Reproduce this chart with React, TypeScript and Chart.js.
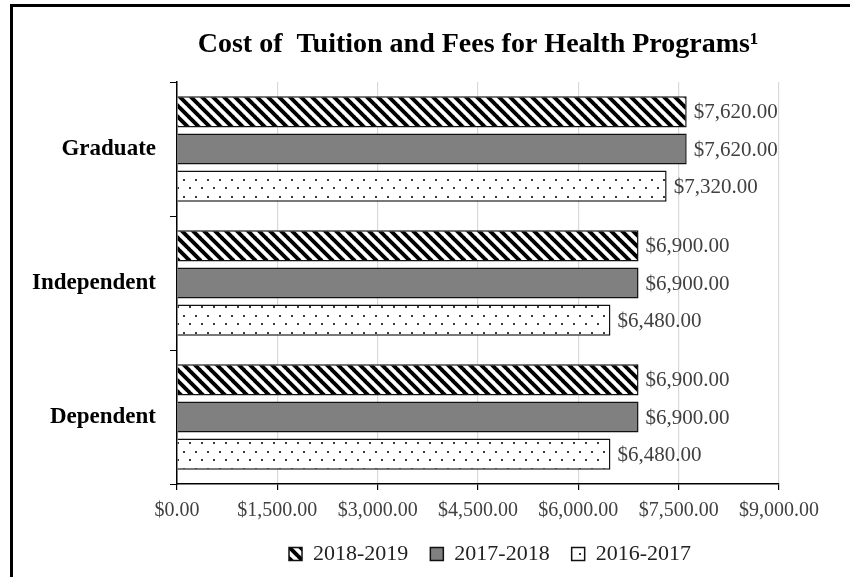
import React, { useEffect, useRef } from "react";
import { Chart, registerables } from "chart.js";

Chart.register(...registerables);

const categories = ["Graduate", "Independent", "Dependent"];
const seriesLabels = ["2018-2019", "2017-2018", "2016-2017"];
const values2018 = [7620, 6900, 6900];
const values2017 = [7620, 6900, 6900];
const values2016 = [7320, 6480, 6480];
const xMin = 0;
const xMax = 9000;
const xStep = 1500;
const titleText = "Cost of  Tuition and Fees for Health Programs\u00B9";

const FONT = "'Liberation Serif', 'Times New Roman', serif";

const CANVAS_LEFT = 13;
const CANVAS_TOP = 7;
const CANVAS_W = 954;
const CANVAS_H = 570;

function money(v: number): string {
  return "$" + v.toLocaleString("en-US", { minimumFractionDigits: 2, maximumFractionDigits: 2 });
}

function makeHatch(): CanvasPattern | string {
  const c = document.createElement("canvas");
  const s = 11;
  c.width = s;
  c.height = s;
  const ctx = c.getContext("2d")!;
  ctx.fillStyle = "#ffffff";
  ctx.fillRect(0, 0, s, s);
  ctx.strokeStyle = "#000000";
  ctx.lineWidth = 3.9;
  for (const off of [-s, 0, s]) {
    ctx.beginPath();
    ctx.moveTo(off - 1, -1);
    ctx.lineTo(off + s + 1, s + 1);
    ctx.stroke();
  }
  return ctx.createPattern(c, "repeat") || "#ffffff";
}

function makeDots(): CanvasPattern | string {
  const c = document.createElement("canvas");
  c.width = 12;
  c.height = 17;
  const ctx = c.getContext("2d")!;
  ctx.fillStyle = "#ffffff";
  ctx.fillRect(0, 0, 12, 17);
  ctx.fillStyle = "#3a3a3a";
  ctx.fillRect(2, 2, 2, 2);
  ctx.fillRect(8, 10, 2, 2);
  return ctx.createPattern(c, "repeat") || "#ffffff";
}

const valueLabelPlugin = {
  id: "valueLabels",
  afterDatasetsDraw(chart: any) {
    const ctx = chart.ctx;
    ctx.save();
    ctx.font = `21px ${FONT}`;
    ctx.fillStyle = "#404040";
    ctx.textAlign = "left";
    ctx.textBaseline = "middle";
    chart.data.datasets.forEach((ds: any, i: number) => {
      const meta = chart.getDatasetMeta(i);
      meta.data.forEach((el: any, j: number) => {
        ctx.fillText(money(ds.data[j]), el.x + 7, el.y + 1);
      });
    });
    ctx.restore();
  },
};

const titlePlugin = {
  id: "customTitle",
  afterDraw(chart: any) {
    const ctx = chart.ctx;
    ctx.save();
    ctx.font = `bold 28px ${FONT}`;
    ctx.fillStyle = "#000";
    ctx.textAlign = "center";
    ctx.textBaseline = "middle";
    ctx.fillText(titleText, 478 - CANVAS_LEFT, 45 - CANVAS_TOP);
    ctx.restore();
  },
};

export default function App() {
  const ref = useRef<HTMLCanvasElement>(null);

  useEffect(() => {
    const canvas = ref.current!;
    const hatch = makeHatch();
    const dots = makeDots();
    const chart = new Chart(canvas, {
      type: "bar",
      data: {
        labels: categories,
        datasets: [
          { label: seriesLabels[0], data: values2018, backgroundColor: hatch as any, borderColor: "#111", borderWidth: 1.5 },
          { label: seriesLabels[1], data: values2017, backgroundColor: "#808080", borderColor: "#111", borderWidth: 1.5 },
          { label: seriesLabels[2], data: values2016, backgroundColor: dots as any, borderColor: "#111", borderWidth: 1.5 },
        ],
      },
      options: {
        indexAxis: "y",
        responsive: false,
        animation: false,
        devicePixelRatio: 1,
        datasets: { bar: { categoryPercentage: 0.83, barPercentage: 0.84 } },
        layout: { padding: { left: 0, right: 0, top: 75, bottom: 2 } },
        scales: {
          x: {
            min: xMin,
            max: xMax,
            ticks: {
              stepSize: xStep,
              callback: (v: any) => money(Number(v)),
              color: "#404040",
              font: { family: FONT, size: 20 },
              padding: 9,
              maxRotation: 0,
            },
            grid: { color: "#d9d9d9", tickColor: "#000", tickLength: 6, lineWidth: 1.2 },
            border: { color: "#000", width: 1.5 },
            afterFit: (s: any) => { s.height = 37; },
          },
          y: {
            ticks: {
              color: "#000",
              font: { family: FONT, size: 23, weight: "bold" },
              padding: 14,
            },
            grid: { drawOnChartArea: false, tickColor: "#000", tickLength: 7, offset: true },
            border: { color: "#000", width: 1.5 },
            afterFit: (s: any) => { s.width = 164; },
          },
          yRight: {
            type: "linear",
            position: "right",
            display: true,
            ticks: { display: false },
            grid: { display: false, drawTicks: false },
            border: { display: false },
            afterFit: (s: any) => { s.width = CANVAS_W - (779 - CANVAS_LEFT); },
          },
        },
        plugins: {
          title: { display: false },
          legend: {
            position: "bottom",
            labels: {
              color: "#222",
              font: { family: FONT, size: 22 },
              boxWidth: 13,
              boxHeight: 13,
              padding: 22,
            },
          },
          tooltip: { enabled: false },
        },
      },
      plugins: [valueLabelPlugin, titlePlugin],
    } as any);
    return () => chart.destroy();
  }, []);

  return (
    <div style={{ position: "fixed", left: 0, top: 0, width: 850, height: 577, overflow: "hidden", background: "#fff" }}>
      <div style={{ position: "absolute", left: 10, top: 4, width: 1000, height: 700, border: "3px solid #000", boxSizing: "border-box" }} />
      <canvas ref={ref} width={CANVAS_W} height={CANVAS_H} style={{ position: "absolute", left: CANVAS_LEFT, top: CANVAS_TOP, width: CANVAS_W, height: CANVAS_H }} />
    </div>
  );
}
